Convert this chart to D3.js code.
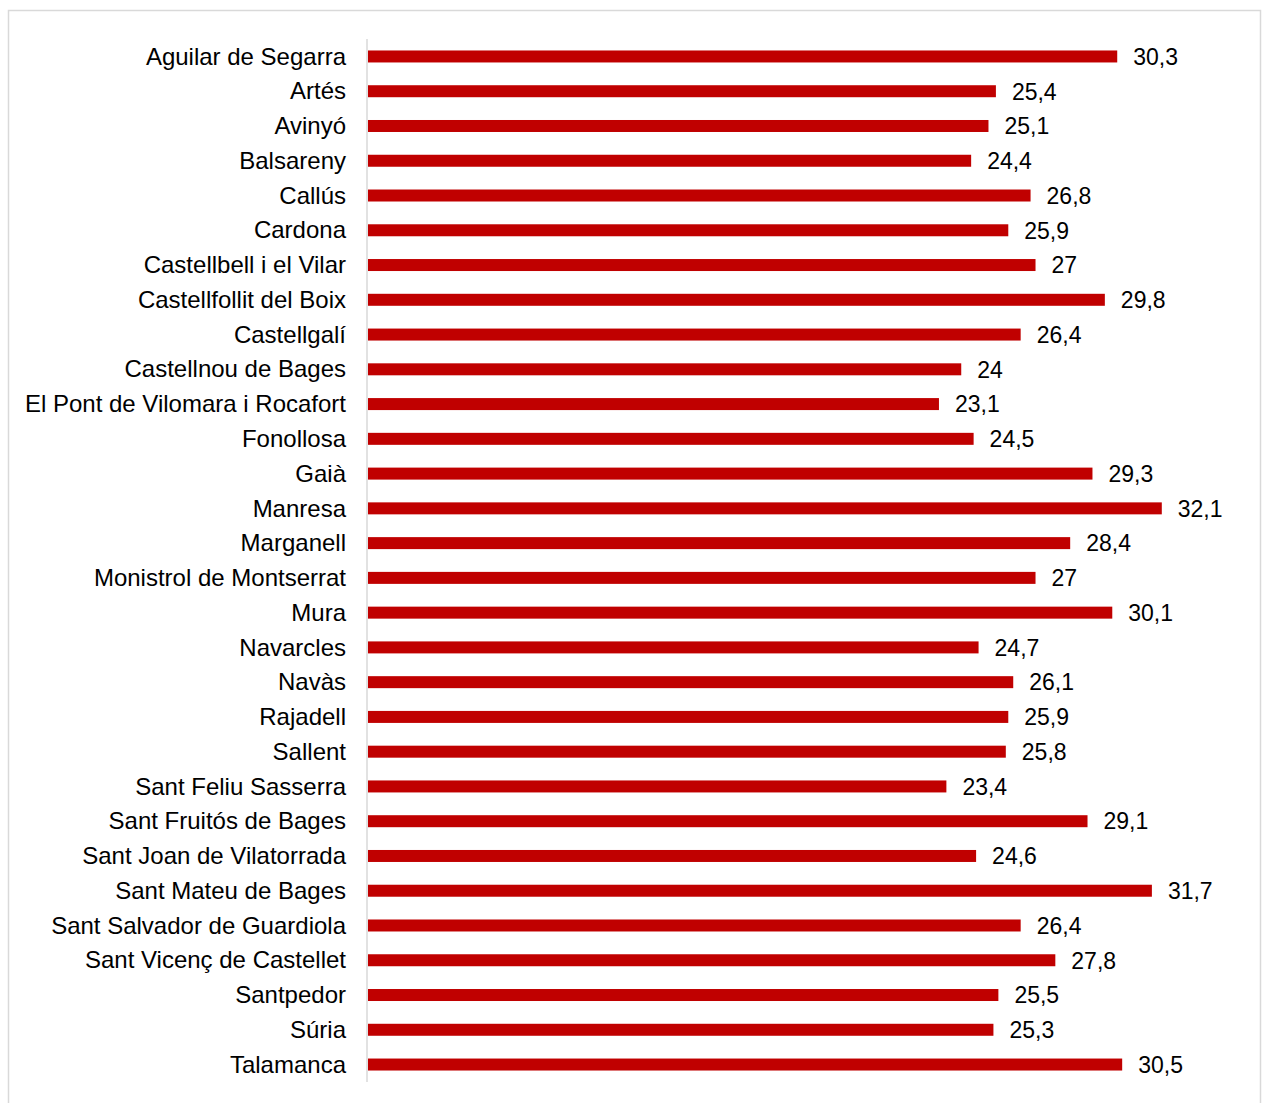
<!DOCTYPE html>
<html>
<head>
<meta charset="utf-8">
<script src="https://cdn.jsdelivr.net/npm/d3@7"></script>
<style>
  body { margin: 0; background: #fff; }
  svg { display: block; font-family: "Liberation Sans", Arial, sans-serif; }
</style>
</head>
<body>
<svg id="chart" width="1267" height="1103"></svg>
<script>
const municipis = [
  "Aguilar de Segarra", "Artés", "Avinyó", "Balsareny", "Callús", "Cardona",
  "Castellbell i el Vilar", "Castellfollit del Boix", "Castellgalí", "Castellnou de Bages",
  "El Pont de Vilomara i Rocafort", "Fonollosa", "Gaià", "Manresa", "Marganell",
  "Monistrol de Montserrat", "Mura", "Navarcles", "Navàs", "Rajadell", "Sallent",
  "Sant Feliu Sasserra", "Sant Fruitós de Bages", "Sant Joan de Vilatorrada",
  "Sant Mateu de Bages", "Sant Salvador de Guardiola", "Sant Vicenç de Castellet",
  "Santpedor", "Súria", "Talamanca"
];
const valors = [
  30.3, 25.4, 25.1, 24.4, 26.8, 25.9, 27, 29.8, 26.4, 24,
  23.1, 24.5, 29.3, 32.1, 28.4, 27, 30.1, 24.7, 26.1, 25.9, 25.8,
  23.4, 29.1, 24.6, 31.7, 26.4, 27.8, 25.5, 25.3, 30.5
];

const data = municipis.map((m, i) => ({ name: m, value: valors[i] }));
const svg = d3.select("#chart");

// outer frame (bottom edge falls outside the picture)
svg.append("rect")
  .attr("x", 8.5).attr("y", 10.5)
  .attr("width", 1252).attr("height", 1110)
  .attr("fill", "none").attr("stroke", "#d9d9d9").attr("stroke-width", 1.5);

const x = d3.scaleLinear().domain([0, 35]).range([367, 367 + 35 * 24.76]);
const y = d3.scaleBand().domain(municipis).range([39, 1082]).paddingInner(0.655).paddingOuter(0.33);

const fmt = v => String(v).replace(".", ",");

svg.append("g")
  .selectAll("rect")
  .data(data)
  .join("rect")
    .attr("x", x(0) + 1)
    .attr("y", d => y(d.name))
    .attr("width", d => x(d.value) - x(0) - 1)
    .attr("height", y.bandwidth())
    .attr("fill", "#c00000");

svg.append("g")
  .selectAll("text")
  .data(data)
  .join("text")
    .attr("x", d => x(d.value) + 16)
    .attr("y", d => y(d.name) + y.bandwidth() / 2)
    .attr("dy", "0.36em")
    .attr("font-size", 23)
    .attr("fill", "#000")
    .text(d => fmt(d.value));

const yAxis = svg.append("g")
  .attr("transform", `translate(${x(0)},0)`)
  .call(d3.axisLeft(y).tickSize(0).tickPadding(21));
yAxis.attr("font-family", null).attr("font-size", null);
yAxis.select(".domain").remove();
yAxis.selectAll("text").attr("font-size", 24).attr("fill", "#000").attr("dy", "0.34em");

svg.append("line")
  .attr("x1", x(0)).attr("x2", x(0))
  .attr("y1", 39).attr("y2", 1082)
  .attr("stroke", "#d9d9d9").attr("stroke-width", 1.5);
</script>
</body>
</html>
